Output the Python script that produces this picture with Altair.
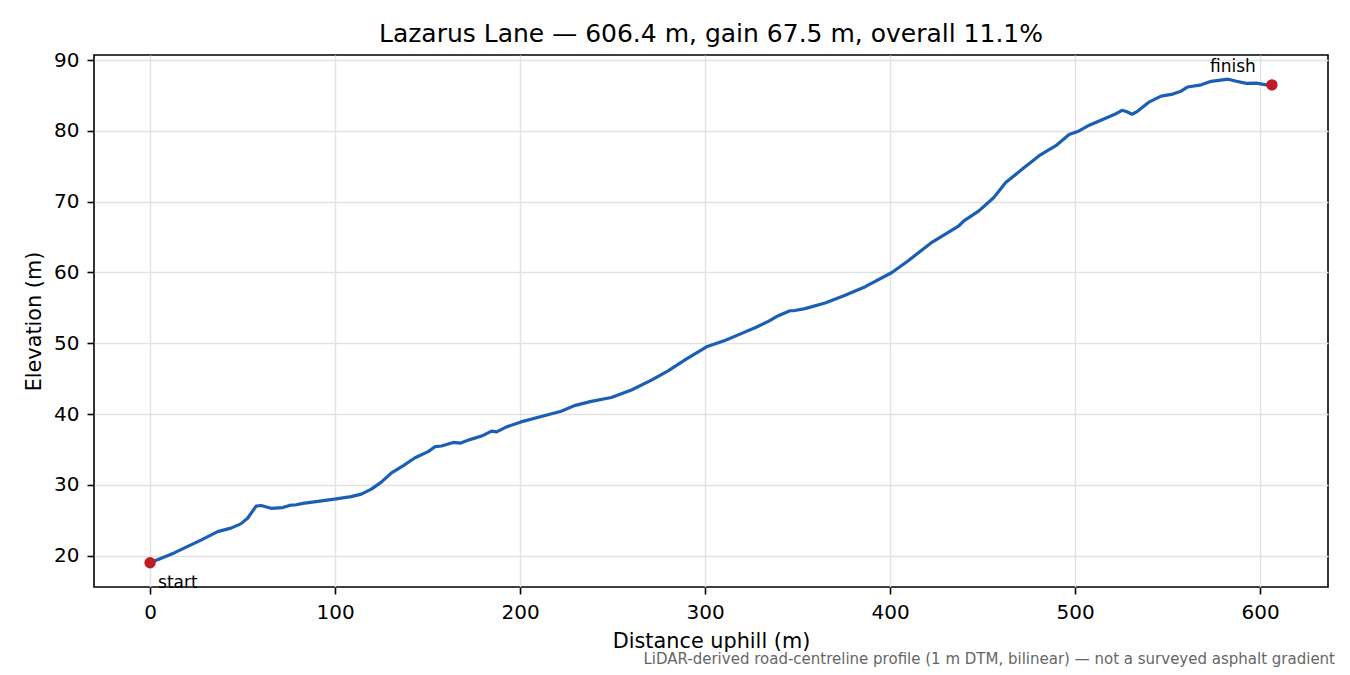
import altair as alt
import pandas as pd

# ---- data ----
distance_m = [0, 13, 27.5, 36.5, 43.7, 49, 52.7, 57.3, 60, 65.4, 71.7, 75.3, 79, 82.6,
              99.7, 108.7, 114.2, 119.6, 125, 130.5, 136.7, 143, 150.3, 154, 157.5,
              163.9, 167.5, 172.9, 179.2, 184.6, 187.3, 192.7, 200.5, 215, 222.2,
              229.4, 238.5, 249.3, 260.2, 271, 280, 290, 300.8, 310.7, 319.8, 327,
              334.2, 339.6, 345.9, 347.8, 354, 364.9, 375.7, 386.6, 401, 410, 422.8,
              437.2, 439.9, 448, 456.1, 462.5, 471.5, 480.6, 489.6, 496.8, 501.4,
              507.7, 514.9, 521.2, 525.4, 528, 530.8, 533.9, 540.2, 546.5, 552.8,
              557.3, 560.9, 568.2, 573.6, 582.7, 587.2, 592.6, 598, 603.4, 606.4]
elevation_m = [19.0, 20.4, 22.2, 23.4, 23.9, 24.5, 25.3, 27.0, 27.1, 26.7, 26.8, 27.1,
               27.2, 27.4, 28.0, 28.35, 28.7, 29.4, 30.4, 31.7, 32.7, 33.8, 34.7, 35.4,
               35.5, 36.0, 35.9, 36.4, 36.9, 37.6, 37.5, 38.2, 38.9, 39.9, 40.4, 41.2,
               41.8, 42.35, 43.4, 44.8, 46.1, 47.8, 49.5, 50.4, 51.4, 52.2, 53.1, 53.9,
               54.6, 54.6, 54.9, 55.7, 56.8, 58.0, 60.0, 61.7, 64.3, 66.6, 67.3, 68.7,
               70.6, 72.7, 74.6, 76.5, 77.9, 79.5, 79.9, 80.8, 81.6, 82.3, 82.9, 82.7,
               82.35, 82.8, 84.1, 84.9, 85.2, 85.6, 86.2, 86.5, 87.0, 87.3, 87.0, 86.7,
               86.75, 86.5, 86.5]
x_ticks = [0, 100, 200, 300, 400, 500, 600]
y_ticks = [20, 30, 40, 50, 60, 70, 80, 90]
marker_labels = ["start", "finish"]
title_text = "Lazarus Lane — 606.4 m, gain 67.5 m, overall 11.1%"
x_title = "Distance uphill (m)"
y_title = "Elevation (m)"
footnote_text = ("LiDAR-derived road-centreline profile (1 m DTM, bilinear) "
                 "— not a surveyed asphalt gradient")

FONT = "DejaVu Sans"
LINE_COLOR = "#1a5fb4"
DOT_COLOR = "#c01c28"

W, H = 1234, 532

profile = pd.DataFrame({"d": distance_m, "e": elevation_m})
start = pd.DataFrame({"d": [distance_m[0]], "e": [elevation_m[0]], "label": [marker_labels[0]]})
finish = pd.DataFrame({"d": [distance_m[-1]], "e": [elevation_m[-1]], "label": [marker_labels[1]]})
ends = pd.concat([start, finish], ignore_index=True)

dspan = max(distance_m) - min(distance_m)
espan = max(elevation_m) - min(elevation_m)
xs = alt.Scale(domain=[min(distance_m) - 0.05 * dspan, max(distance_m) + 0.05 * dspan],
               nice=False, zero=False)
ys = alt.Scale(domain=[min(elevation_m) - 0.05 * espan, max(elevation_m) + 0.05 * espan],
               nice=False, zero=False)

x_enc = alt.X("d:Q", scale=xs,
              axis=alt.Axis(values=x_ticks, format="d", title=x_title,
                            titleX=W / 2, titleY=60, titleBaseline="alphabetic",
                            titleAlign="center"))
y_enc = alt.Y("e:Q", scale=ys,
              axis=alt.Axis(values=y_ticks, format="d", title=y_title,
                            titleX=-54, titleY=H / 2, titleBaseline="alphabetic",
                            titleAlign="center"))

base = alt.Chart(profile)
line = base.mark_line(color=LINE_COLOR, strokeWidth=3.2, strokeJoin="round",
                      strokeCap="round").encode(x=x_enc, y=y_enc)
dots = alt.Chart(ends).mark_circle(color=DOT_COLOR, size=130, opacity=1).encode(
    x="d:Q", y="e:Q")
start_lbl = alt.Chart(start).mark_text(align="left", baseline="alphabetic", dx=8, dy=25,
                                       fontSize=17, font=FONT, color="black").encode(
    x="d:Q", y="e:Q", text="label:N")
finish_lbl = alt.Chart(finish).mark_text(align="center", baseline="alphabetic", dx=-39,
                                         dy=-12.5, fontSize=17, font=FONT,
                                         color="black").encode(
    x="d:Q", y="e:Q", text="label:N")
foot = alt.Chart(pd.DataFrame({"t": [footnote_text]})).mark_text(
    align="right", baseline="alphabetic", fontSize=15, font=FONT, color="#666666"
).encode(x=alt.value(1241), y=alt.value(608.5), text="t:N")

chart = alt.layer(line, dots, start_lbl, finish_lbl, foot).properties(
    width=W, height=H,
    background="white",
    title=alt.TitleParams(text=title_text, font=FONT, fontSize=25, fontWeight="normal",
                          color="black", anchor="middle", baseline="alphabetic",
                          offset=-16.5),
    autosize=alt.AutoSizeParams(type="none"),
    padding={"left": 86, "top": 47, "right": 10, "bottom": 80},
).configure_view(stroke="black", strokeWidth=1.6).configure_axis(
    domain=False, grid=True, gridColor="#e2e2e2", gridWidth=1.4,
    ticks=True, tickColor="black", tickWidth=1.6, tickSize=7,
    labelFont=FONT, labelFontSize=20, labelColor="black", labelPadding=8,
    titleFont=FONT, titleFontSize=20.8, titleFontWeight="normal", titleColor="black",
)

chart.save("out.html", embed_options={"renderer": "svg", "actions": False})
